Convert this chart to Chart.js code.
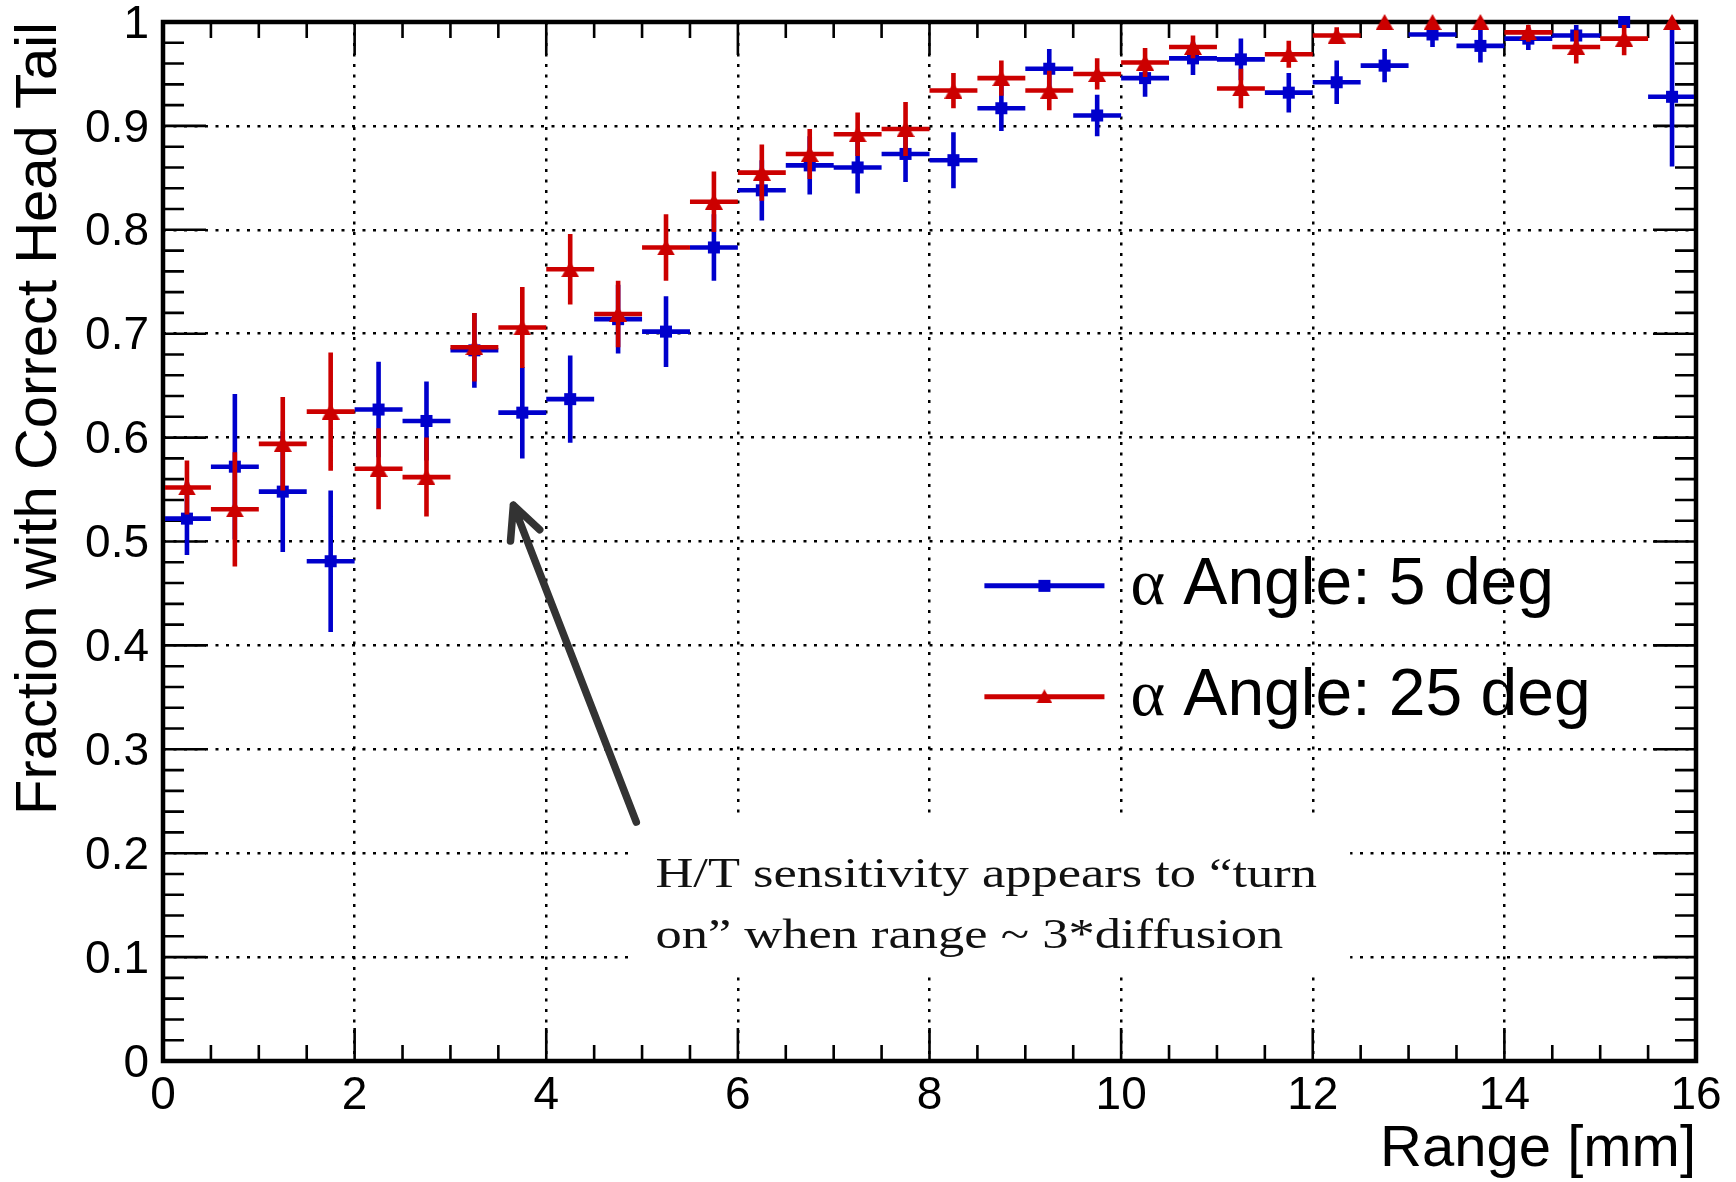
<!DOCTYPE html>
<html>
<head>
<meta charset="utf-8">
<title>Head/tail fraction vs range</title>
<script src="https://cdn.jsdelivr.net/npm/chart.js@4.4.1/dist/chart.umd.min.js"></script>
<style>
  html, body { margin: 0; padding: 0; background: #fff; }
  #chart-wrap { width: 1736px; height: 1182px; }
</style>
</head>
<body>
<div id="chart-wrap"><canvas id="ht-chart" width="1736" height="1182"></canvas></div>
<script>
// Range bins [mm], 0.5 mm wide
const rangeBins = [0.25, 0.75, 1.25, 1.75, 2.25, 2.75, 3.25, 3.75, 4.25, 4.75, 5.25, 5.75,
    6.25, 6.75, 7.25, 7.75, 8.25, 8.75, 9.25, 9.75, 10.25, 10.75, 11.25, 11.75,
    12.25, 12.75, 13.25, 13.75, 14.25, 14.75, 15.25, 15.75];
const binHalfWidth = 0.25;

// Fraction with correct head/tail, 5 deg alpha angle
const frac5deg = [0.522, 0.572, 0.548, 0.481, 0.627, 0.616, 0.684, 0.624, 0.637, 0.714, 0.702, 0.783,
    0.838, 0.862, 0.860, 0.873, 0.867, 0.917, 0.955, 0.910, 0.946, 0.965, 0.964, 0.932,
    0.942, 0.958, 0.988, 0.977, 0.984, 0.987, 1.000, 0.928];
const err5deg = [0.035, 0.070, 0.058, 0.068, 0.046, 0.038, 0.036, 0.044, 0.042, 0.033, 0.034, 0.032,
    0.029, 0.028, 0.025, 0.027, 0.027, 0.022, 0.019, 0.020, 0.018, 0.016, 0.020, 0.019,
    0.021, 0.016, 0.012, 0.016, 0.011, 0.011, 0.000, 0.067];

// Same for 25 deg alpha angle
const frac25deg = [0.552, 0.531, 0.594, 0.625, 0.570, 0.562, 0.687, 0.706, 0.762, 0.719, 0.783, 0.827,
    0.855, 0.873, 0.892, 0.897, 0.934, 0.946, 0.934, 0.950, 0.961, 0.976, 0.936, 0.969,
    0.987, 1.000, 1.000, 1.000, 0.990, 0.976, 0.984, 1.000];
const err25deg = [0.026, 0.055, 0.045, 0.057, 0.039, 0.038, 0.033, 0.039, 0.034, 0.032, 0.032, 0.029,
    0.027, 0.024, 0.021, 0.026, 0.017, 0.017, 0.019, 0.015, 0.014, 0.011, 0.019, 0.013,
    0.008, 0.000, 0.000, 0.000, 0.009, 0.016, 0.016, 0.000];

const seriesLabels = ['α Angle: 5 deg', 'α Angle: 25 deg'];
const xTickLabels = ['0', '2', '4', '6', '8', '10', '12', '14', '16'];
const yTickLabels = ['0', '0.1', '0.2', '0.3', '0.4', '0.5', '0.6', '0.7', '0.8', '0.9', '1'];
const noteLines = ['H/T sensitivity appears to \u201cturn', 'on\u201d when range ~ 3*diffusion'];

const SANS = "'Liberation Sans', Arial, Helvetica, sans-serif";
const SERIF = "'Liberation Serif', 'Times New Roman', serif";
const BLUE = '#0000cc';
const RED = '#cc0000';

const toPoints = (vals, errs) => rangeBins.map((x, i) => ({ x, y: vals[i], yErr: errs[i] }));

// Filled triangle centred on the point (the built-in one sits high)
function triangleMarker(color, w, h) {
    const c = document.createElement('canvas');
    c.width = w;
    c.height = h;
    const g = c.getContext('2d');
    g.fillStyle = color;
    g.beginPath();
    g.moveTo(w / 2, 0);
    g.lineTo(w, h);
    g.lineTo(0, h);
    g.closePath();
    g.fill();
    return c;
}
const redTriangle = triangleMarker(RED, 18, 16);

// White box, arrow and text of the note
const notePlugin = {
    id: 'note',
    beforeDatasetsDraw(chart) {
        const { ctx, scales: { x, y } } = chart;
        const x0 = x.getPixelForValue(4.89), x1 = x.getPixelForValue(12.39);
        const y0 = y.getPixelForValue(0.234), y1 = y.getPixelForValue(0.083);
        ctx.save();
        ctx.fillStyle = '#fff';
        ctx.fillRect(x0, y0, x1 - x0, y1 - y0);
        ctx.restore();
    },
    afterDatasetsDraw(chart) {
        const { ctx, scales: { x, y } } = chart;
        const tx = x.getPixelForValue(4.94), ty = y.getPixelForValue(0.230);
        const hx = x.getPixelForValue(3.657), hy = y.getPixelForValue(0.535);
        const ang = Math.atan2(ty - hy, tx - hx);
        const barb = 36, spread = 0.45;
        ctx.save();
        ctx.strokeStyle = '#333';
        ctx.lineWidth = 7.5;
        ctx.lineCap = 'round';
        ctx.lineJoin = 'round';
        ctx.beginPath();
        ctx.moveTo(tx, ty);
        ctx.lineTo(hx, hy);
        ctx.moveTo(hx + barb * Math.cos(ang - spread), hy + barb * Math.sin(ang - spread));
        ctx.lineTo(hx, hy);
        ctx.lineTo(hx + barb * Math.cos(ang + spread), hy + barb * Math.sin(ang + spread));
        ctx.stroke();

        ctx.fillStyle = '#111';
        ctx.font = '43px ' + SERIF;
        ctx.textBaseline = 'alphabetic';
        const lx = x.getPixelForValue(5.14);
        [0.1675, 0.109].forEach((v, i) => {
            ctx.save();
            ctx.translate(lx, y.getPixelForValue(v));
            ctx.scale(1.22, 1);
            ctx.fillText(noteLines[i], 0, 0);
            ctx.restore();
        });
        ctx.restore();
    }
};

// Inward ticks on all four sides plus the heavy frame
const framePlugin = {
    id: 'frame',
    beforeDatasetsDraw(chart) {
        const { ctx, chartArea: a, scales: { x, y } } = chart;
        ctx.save();
        ctx.strokeStyle = '#000';
        ctx.lineWidth = 2.6;
        ctx.beginPath();
        for (let i = 0; i <= 32; i++) {
            const len = i % 4 === 0 ? 33 : 16;
            const px = x.getPixelForValue(i * 0.5);
            ctx.moveTo(px, a.bottom); ctx.lineTo(px, a.bottom - len);
            ctx.moveTo(px, a.top); ctx.lineTo(px, a.top + len);
        }
        for (let i = 0; i <= 50; i++) {
            const len = i % 5 === 0 ? 43 : 21;
            const py = y.getPixelForValue(i * 0.02);
            ctx.moveTo(a.left, py); ctx.lineTo(a.left + len, py);
            ctx.moveTo(a.right, py); ctx.lineTo(a.right - len, py);
        }
        ctx.stroke();
        ctx.lineWidth = 4.5;
        ctx.strokeRect(a.left, a.top, a.right - a.left, a.bottom - a.top);
        ctx.restore();
    }
};

// Bin-width and statistical error bars, drawn under each series' markers
const errorBarPlugin = {
    id: 'errorBars',
    beforeDatasetDraw(chart, args) {
        const ds = chart.data.datasets[args.index];
        const { ctx, chartArea: a, scales: { x, y } } = chart;
        ctx.save();
        ctx.beginPath();
        ctx.rect(a.left + 2, a.top + 3, a.right - a.left - 4, a.bottom - a.top - 5);
        ctx.clip();
        ctx.strokeStyle = ds.borderColor;
        ctx.lineWidth = 4.6;
        ctx.beginPath();
        ds.data.forEach(p => {
            const px = x.getPixelForValue(p.x);
            const py = y.getPixelForValue(p.y);
            ctx.moveTo(x.getPixelForValue(p.x - binHalfWidth), py);
            ctx.lineTo(x.getPixelForValue(p.x + binHalfWidth), py);
            if (p.yErr > 0) {
                ctx.moveTo(px, y.getPixelForValue(p.y - p.yErr));
                ctx.lineTo(px, y.getPixelForValue(p.y + p.yErr));
            }
        });
        ctx.stroke();
        ctx.restore();
    }
};

// Legend inside the frame: line + marker + label
const legendPlugin = {
    id: 'insetLegend',
    afterDatasetsDraw(chart) {
        const { ctx, scales: { x, y } } = chart;
        const x0 = x.getPixelForValue(8.573), x1 = x.getPixelForValue(9.826);
        const rows = [0.4573, 0.3505];
        ctx.save();
        chart.data.datasets.forEach((ds, i) => {
            const ly = y.getPixelForValue(rows[i]);
            const mx = (x0 + x1) / 2;
            ctx.strokeStyle = ds.borderColor;
            ctx.fillStyle = ds.borderColor;
            ctx.lineWidth = 5;
            ctx.beginPath();
            ctx.moveTo(x0, ly); ctx.lineTo(x1, ly);
            ctx.stroke();
            if (ds.pointStyle === 'rect') {
                ctx.fillRect(mx - 6, ly - 6, 12, 12);
            } else {
                ctx.drawImage(ds.pointStyle, mx - 8, ly - 7.5, 16, 14);
            }

            const label = ds.label;
            const tx = x1 + 26, ty = ly + 18;
            ctx.fillStyle = '#000';
            ctx.textBaseline = 'alphabetic';
            ctx.font = '66px ' + SERIF;
            ctx.fillText(label[0], tx, ty);
            const w = ctx.measureText(label[0]).width;
            ctx.font = '66px ' + SANS;
            ctx.fillText(label.slice(1), tx + w, ty);
        });
        ctx.restore();
    }
};

const headTailChart = {
    init() {
        const canvas = document.getElementById('ht-chart');
        if (!canvas) return;

        new Chart(canvas, {
            type: 'scatter',
            data: {
                datasets: [{
                    label: seriesLabels[0],
                    data: toPoints(frac5deg, err5deg),
                    pointStyle: 'rect',
                    pointRadius: 8.5,
                    pointBorderWidth: 0,
                    backgroundColor: BLUE,
                    borderColor: BLUE,
                    clip: false,
                    order: 2
                }, {
                    label: seriesLabels[1],
                    data: toPoints(frac25deg, err25deg),
                    pointStyle: redTriangle,
                    pointRadius: 9,
                    pointBorderWidth: 0,
                    backgroundColor: RED,
                    borderColor: RED,
                    clip: false,
                    order: 1
                }]
            },
            options: {
                responsive: false,
                animation: false,
                events: [],
                layout: { padding: { left: 0, top: 22, right: 40, bottom: 0 } },
                plugins: {
                    legend: { display: false },
                    tooltip: { enabled: false }
                },
                scales: {
                    x: {
                        type: 'linear',
                        min: 0,
                        max: 16,
                        afterFit: (s) => { s.height = 121; s.paddingLeft = 0; s.paddingRight = 0; },
                        ticks: {
                            stepSize: 2,
                            autoSkip: false,
                            maxRotation: 0,
                            padding: 8,
                            color: '#000',
                            font: { family: SANS, size: 46 },
                            callback: (v) => xTickLabels[Math.round(v / 2)]
                        },
                        grid: { color: '#000', lineWidth: 2.5, drawTicks: false, tickLength: 0 },
                        border: { display: false, dash: [3, 7.5] },
                        title: {
                            display: true,
                            text: 'Range [mm]',
                            align: 'end',
                            color: '#000',
                            font: { family: SANS, size: 58, lineHeight: 1 },
                            padding: { top: 0, bottom: 3 }
                        }
                    },
                    y: {
                        type: 'linear',
                        min: 0,
                        max: 1,
                        afterFit: (s) => { s.width = 163; s.paddingTop = 0; s.paddingBottom = 0; },
                        ticks: {
                            stepSize: 0.1,
                            autoSkip: false,
                            padding: 14,
                            labelOffset: 3,
                            color: '#000',
                            font: { family: SANS, size: 46 },
                            callback: (v) => yTickLabels[Math.round(v * 10)]
                        },
                        grid: { color: '#000', lineWidth: 2.5, drawTicks: false, tickLength: 0 },
                        border: { display: false, dash: [3, 7.5] },
                        title: {
                            display: true,
                            text: 'Fraction with Correct Head Tail',
                            align: 'end',
                            color: '#000',
                            font: { family: SANS, size: 58, lineHeight: 1 },
                            padding: { top: 11, bottom: 0 }
                        }
                    }
                }
            },
            plugins: [notePlugin, framePlugin, errorBarPlugin, legendPlugin]
        });
    }
};

document.addEventListener('DOMContentLoaded', () => {
    headTailChart.init();
});
</script>
</body>
</html>
